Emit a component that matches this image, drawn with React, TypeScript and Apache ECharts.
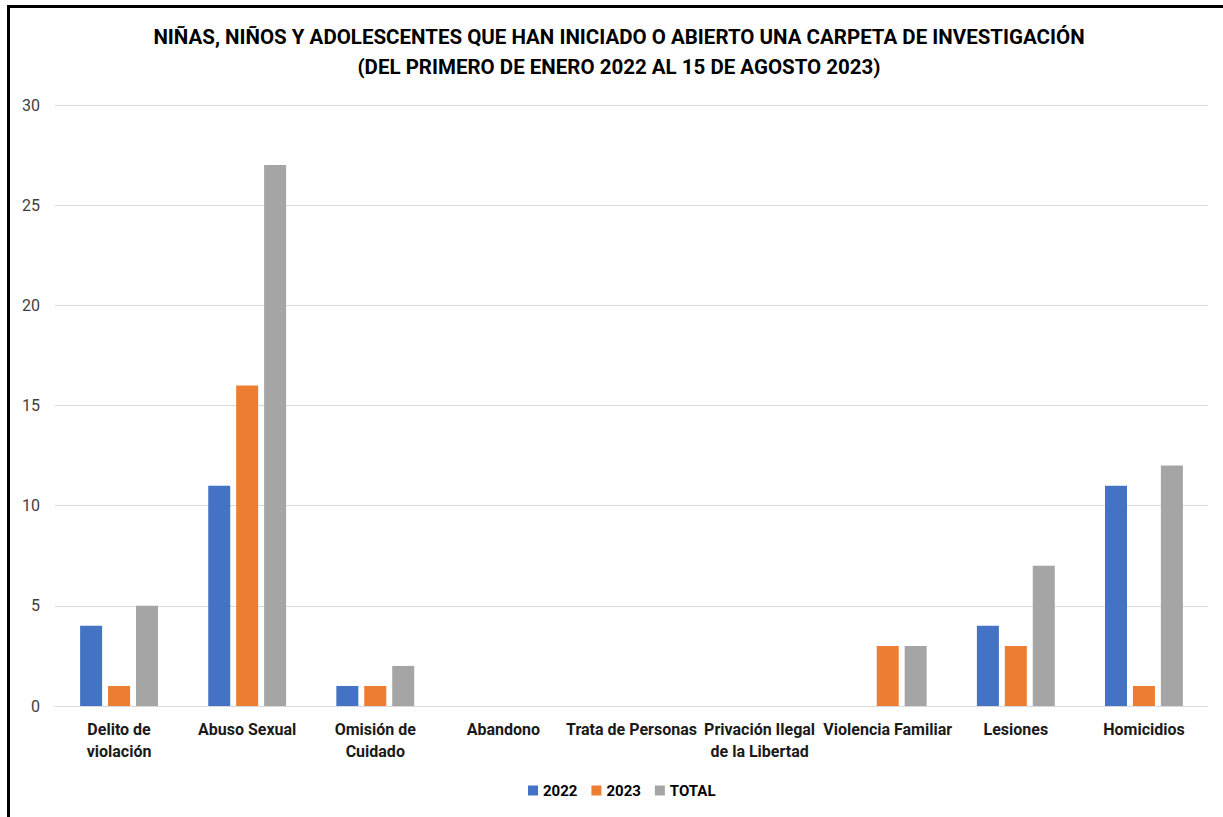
import React, { useEffect, useRef } from "react";
import * as echarts from "echarts";

const categories = [
  "Delito de\nviolación",
  "Abuso Sexual",
  "Omisión de\nCuidado",
  "Abandono",
  "Trata de Personas",
  "Privación Ilegal\nde la Libertad",
  "Violencia Familiar",
  "Lesiones",
  "Homicidios",
];
const values2022 = [4, 11, 1, 0, 0, 0, 0, 4, 11];
const values2023 = [1, 16, 1, 0, 0, 0, 3, 3, 1];
const valuesTotal = [5, 27, 2, 0, 0, 0, 3, 7, 12];
const seriesNames = ["2022", "2023", "TOTAL"];
const titleLines = [
  "NIÑAS, NIÑOS Y ADOLESCENTES QUE HAN INICIADO O ABIERTO UNA CARPETA DE INVESTIGACIÓN",
  "(DEL PRIMERO DE ENERO 2022 AL 15 DE AGOSTO 2023)",
];

const FONT = "Roboto, 'Noto Sans', sans-serif";

export default function App() {
  const ref = useRef<HTMLDivElement>(null);
  useEffect(() => {
    if (!ref.current) return;
    const chart = echarts.init(ref.current, null, { renderer: "svg" });
    const colors = ["#4472C4", "#ED7D31", "#A5A5A5"];
    const data = [values2022, values2023, valuesTotal];
    chart.setOption({
      animation: false,
      backgroundColor: "#ffffff",
      color: colors,
      title: {
        text: titleLines.join("\n"),
        left: 619,
        textAlign: "center",
        top: 22,
        padding: 0,
        textStyle: {
          fontFamily: FONT,
          fontSize: 20.5,
          fontWeight: "bold",
          color: "#000000",
          lineHeight: 30,
        },
      },
      legend: {
        bottom: 19,
        left: 528,
        padding: 0,
        itemWidth: 10,
        itemHeight: 10,
        itemGap: 14,
        icon: "rect",
        textStyle: {
          fontFamily: FONT,
          fontSize: 15,
          fontWeight: "bold",
          color: "#000000",
        },
        data: seriesNames,
      },
      grid: {
        left: 55,
        right: 15,
        top: 105,
        bottom: 111,
        containLabel: false,
      },
      xAxis: {
        type: "category",
        data: categories,
        axisLine: { show: true, lineStyle: { color: "#d9d9d9", width: 1 } },
        axisTick: { show: false },
        axisLabel: {
          interval: 0,
          margin: 12,
          fontFamily: FONT,
          fontSize: 16,
          fontWeight: "bold",
          color: "#1a1a1a",
          lineHeight: 22,
        },
      },
      yAxis: {
        type: "value",
        min: 0,
        max: 30,
        interval: 5,
        axisLine: { show: false },
        axisTick: { show: false },
        splitLine: { lineStyle: { color: "#d9d9d9", width: 1 } },
        axisLabel: {
          margin: 15,
          fontFamily: FONT,
          fontSize: 16,
          color: "#404040",
        },
      },
      series: seriesNames.map((name, i) => ({
        name,
        type: "bar",
        data: data[i],
        barWidth: 22,
        barGap: "27%",
        itemStyle: { color: colors[i] },
      })),
      graphic: [
        {
          type: "rect",
          shape: { x: 8.5, y: 6.5, width: 1400, height: 1000 },
          style: { fill: "none", stroke: "#000000", lineWidth: 3 },
          silent: true,
          z: 100,
        },
      ],
    });
    return () => chart.dispose();
  }, []);
  return (
    <div
      ref={ref}
      style={{ position: "fixed", left: 0, top: 0, width: 1223, height: 817 }}
    />
  );
}
